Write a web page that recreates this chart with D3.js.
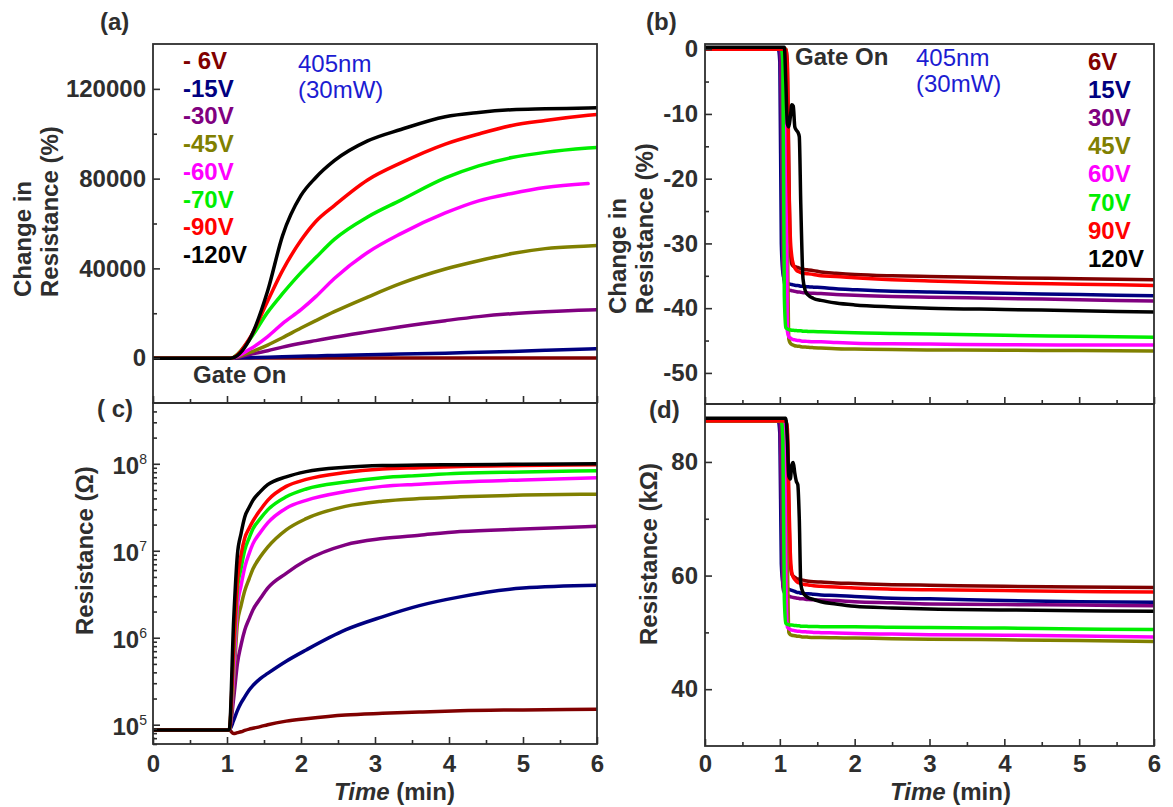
<!DOCTYPE html>
<html>
<head>
<meta charset="utf-8">
<script src="https://cdn.jsdelivr.net/npm/d3@7"></script>
<style>
  body { margin: 0; background: #ffffff; }
  svg { display: block; font-family: Arial, "Liberation Sans", sans-serif; }
</style>
</head>
<body>
<svg id="chart" width="1173" height="807"></svg>
<script>
// ---- series (gate voltages) ----
const legendA = ["- 6V", "-15V", "-30V", "-45V", "-60V", "-70V", "-90V", "-120V"];
const legendB = ["6V", "15V", "30V", "45V", "60V", "70V", "90V", "120V"];
const lineColors = ["#800000", "#000080", "#800080", "#808000", "#ff00ff", "#00ee00", "#ff0000", "#000000"];

// ---- (a) change in resistance (%), negative gate ----
const timeA = [0, 1.05, 1.3, 1.55, 1.75, 2.0, 2.2, 2.45, 2.9, 3.35, 3.95, 4.4, 4.85, 5.3, 5.88, 6.0];
const changeA = [
  [0, 0, 10, 20, 30, 35, 40, 45, 50, 55, 60, 65, 70, 72, 74, 75],
  [0, 0, 200, 400, 600, 800, 1000, 1200, 1500, 1800, 2200, 2600, 3000, 3500, 4100, 4200],
  [0, 0, 1600, 3300, 4900, 6600, 7800, 9300, 11700, 14000, 16700, 18500, 19800, 20700, 21500, 21600],
  [0, 0, 2500, 5800, 9100, 13400, 16700, 20700, 27200, 33300, 39700, 43400, 46600, 48800, 50000, 50200],
  [0, 0, 3800, 9600, 15400, 21600, 27400, 35500, 47100, 55500, 64700, 70100, 73400, 76000, 77800, null],
  [0, 0, 8000, 20500, 28700, 38100, 44800, 52900, 62900, 70400, 80300, 85700, 89400, 91700, 93600, 93900],
  [0, 0, 8500, 25500, 39000, 52500, 60900, 68000, 79400, 87000, 95400, 99900, 103700, 105900, 108200, 108600],
  [0, 0, 8000, 30000, 54500, 72500, 80500, 88000, 96800, 101900, 107600, 109500, 110700, 111100, 111500, 111600]
];

// ---- (c) resistance (ohm), negative gate ----
const timeC = [0, 1.03, 1.09, 1.14, 1.19, 1.24, 1.3, 1.35, 1.45, 1.55, 1.8, 2.07, 2.6, 3.1, 3.6, 4.15, 5.0, 6.0];
const resistC = [
  [8.7e4, 8.7e4, 7.9e4, 8.1e4, 8.3e4, 8.6e4, 8.9e4, 9.1e4, 9.5e4, 1.0e5, 1.1e5, 1.17e5, 1.29e5, 1.35e5, 1.4e5, 1.45e5, 1.48e5, 1.51e5],
  [8.7e4, 8.7e4, 1.12e5, 1.45e5, 1.78e5, 2.09e5, 2.51e5, 2.82e5, 3.39e5, 3.89e5, 5.37e5, 7.24e5, 1.23e6, 1.74e6, 2.34e6, 2.95e6, 3.72e6, 4.0e6],
  [8.7e4, 8.7e4, 2.0e5, 5.0e5, 8.3e5, 1.23e6, 1.66e6, 2.09e6, 2.82e6, 3.72e6, 5.5e6, 7.76e6, 1.17e7, 1.38e7, 1.51e7, 1.66e7, 1.78e7, 1.91e7],
  [8.7e4, 8.7e4, 3.16e5, 1.45e6, 2.34e6, 3.47e6, 4.79e6, 6.17e6, 8.51e6, 1.10e7, 1.74e7, 2.34e7, 3.24e7, 3.72e7, 3.98e7, 4.17e7, 4.37e7, 4.47e7],
  [8.7e4, 8.7e4, 3.98e5, 2.24e6, 3.98e6, 6.46e6, 9.33e6, 1.20e7, 1.62e7, 2.09e7, 3.09e7, 3.80e7, 4.79e7, 5.50e7, 5.82e7, 6.17e7, 6.53e7, 6.92e7],
  [8.7e4, 8.7e4, 6.31e5, 3.55e6, 6.31e6, 1.02e7, 1.41e7, 1.78e7, 2.34e7, 2.95e7, 4.17e7, 5.13e7, 6.17e7, 6.92e7, 7.33e7, 7.76e7, 8.04e7, 8.32e7],
  [8.7e4, 8.7e4, 8.0e5, 4.5e6, 9.0e6, 1.4e7, 1.82e7, 2.19e7, 2.95e7, 3.80e7, 5.50e7, 6.61e7, 7.94e7, 8.71e7, 9.02e7, 9.33e7, 9.55e7, 9.77e7],
  [8.7e4, 8.7e4, 1.58e6, 8.91e6, 1.58e7, 2.45e7, 3.16e7, 3.80e7, 4.79e7, 5.75e7, 7.08e7, 8.13e7, 9.12e7, 9.55e7, 9.66e7, 9.77e7, 9.89e7, 1.0e8]
];

// ---- (b) change in resistance (%) and (d) resistance (kOhm), positive gate ----
const timeBD = [0, 0.98, 1.0, 1.02, 1.04, 1.06, 1.08, 1.1, 1.12, 1.14, 1.16, 1.18, 1.2, 1.22, 1.24, 1.26, 1.28, 1.31, 1.34, 1.38, 1.45, 1.55, 1.75, 2.0, 2.5, 3.0, 4.0, 5.0, 6.0];
const changeB = [
  [0, 0, 0, 0, 0, 0, 0, -2, -18, -31, -33.2, -33.5, -33.6, -33.65, -33.7, -33.8, -33.9, -34.0, -34.05, -34.1, -34.2, -34.4, -34.6, -34.8, -35.0, -35.1, -35.3, -35.45, -35.6],
  [0, 0, -2, -30, -34.5, -35.6, -36.0, -36.15, -36.25, -36.3, -36.35, -36.4, -36.45, -36.5, -36.5, -36.55, -36.6, -36.6, -36.65, -36.7, -36.75, -36.8, -37.0, -37.15, -37.4, -37.5, -37.7, -37.9, -38.1],
  [0, 0, 0, -10, -33, -36, -36.8, -37.1, -37.2, -37.25, -37.3, -37.35, -37.4, -37.45, -37.5, -37.5, -37.55, -37.6, -37.6, -37.65, -37.7, -37.75, -37.9, -38.0, -38.2, -38.3, -38.5, -38.7, -38.9],
  [0, 0, 0, 0, 0, 0, 0, -25, -44.8, -45.4, -45.6, -45.7, -45.8, -45.85, -45.9, -45.9, -45.95, -46.0, -46.0, -46.05, -46.1, -46.15, -46.25, -46.3, -46.4, -46.45, -46.5, -46.55, -46.6],
  [0, 0, 0, 0, 0, 0, -12, -43.5, -44.4, -44.6, -44.75, -44.85, -44.9, -44.95, -45.0, -45.0, -45.05, -45.1, -45.1, -45.15, -45.2, -45.2, -45.3, -45.4, -45.5, -45.55, -45.65, -45.7, -45.7],
  [0, 0, 0, 0, -2, -38, -43.0, -43.2, -43.3, -43.35, -43.4, -43.4, -43.45, -43.45, -43.5, -43.5, -43.5, -43.55, -43.55, -43.6, -43.6, -43.65, -43.7, -43.8, -43.9, -44.0, -44.2, -44.35, -44.5],
  [0, 0, 0, 0, 0, 0, 0, -3, -20, -29, -32, -33.2, -33.8, -34.1, -34.3, -34.4, -34.5, -34.6, -34.65, -34.7, -34.8, -35.0, -35.1, -35.3, -35.6, -35.8, -36.1, -36.3, -36.5],
  [0.3, 0.3, 0.3, 0.3, 0.3, 0.3, -5, -11.5, -12, -10.5, -8.6, -8.8, -12, -12.5, -12.8, -13.5, -24, -35.5, -37.3, -38.0, -38.5, -38.8, -39.2, -39.5, -39.8, -40.0, -40.2, -40.4, -40.6]
];
const resistD = [
  [87.2, 87.2, 87.2, 87.2, 87.2, 87.2, 87.2, 85, 72, 62, 60.3, 59.9, 59.7, 59.5, 59.4, 59.3, 59.25, 59.2, 59.1, 59.0, 58.9, 58.85, 58.7, 58.6, 58.4, 58.3, 58.1, 58.0, 57.9],
  [87.2, 87.2, 85, 62, 58.8, 58.2, 57.9, 57.7, 57.6, 57.5, 57.4, 57.3, 57.2, 57.1, 57.0, 57.0, 56.9, 56.9, 56.8, 56.8, 56.7, 56.6, 56.5, 56.3, 56.0, 55.9, 55.6, 55.4, 55.3],
  [87.2, 87.2, 87.2, 75, 58, 57.0, 56.7, 56.5, 56.4, 56.3, 56.2, 56.15, 56.1, 56.05, 56.0, 55.95, 55.9, 55.9, 55.85, 55.8, 55.75, 55.7, 55.6, 55.4, 55.2, 55.0, 54.9, 54.8, 54.7],
  [87.2, 87.2, 87.2, 87.2, 87.2, 87.2, 87.2, 65, 50.0, 49.6, 49.5, 49.45, 49.4, 49.35, 49.3, 49.3, 49.25, 49.2, 49.2, 49.15, 49.1, 49.1, 49.05, 49.0, 48.9, 48.8, 48.7, 48.55, 48.4],
  [87.2, 87.2, 87.2, 87.2, 87.2, 87.2, 60, 51.0, 50.7, 50.5, 50.4, 50.35, 50.3, 50.25, 50.2, 50.2, 50.15, 50.1, 50.1, 50.05, 50.0, 49.95, 49.9, 49.8, 49.7, 49.6, 49.5, 49.35, 49.2],
  [87.2, 87.2, 87.2, 87.2, 84, 56, 51.6, 51.4, 51.35, 51.3, 51.3, 51.25, 51.2, 51.2, 51.15, 51.15, 51.1, 51.1, 51.1, 51.05, 51.05, 51.0, 51.0, 51.0, 50.9, 50.85, 50.75, 50.6, 50.5],
  [87.2, 87.2, 87.2, 87.2, 87.2, 87.2, 87.2, 86, 74, 64, 60.5, 59.7, 59.3, 59.0, 58.8, 58.7, 58.6, 58.5, 58.4, 58.35, 58.2, 58.1, 58.0, 57.8, 57.6, 57.5, 57.35, 57.2, 57.1],
  [87.7, 87.7, 87.7, 87.7, 87.7, 87.7, 87.7, 84, 77.5, 77, 79.5, 79.9, 78, 76.6, 76.0, 70, 58.5, 57.0, 56.5, 56.1, 55.8, 55.4, 55.0, 54.6, 54.3, 54.1, 53.95, 53.8, 53.7]
];

// ---- tick values ----
const timeTicks = [0, 1, 2, 3, 4, 5, 6];
const timeMinor = [0.5, 1.5, 2.5, 3.5, 4.5, 5.5];
const ticksA = [0, 40000, 80000, 120000];
const minorA = [20000, 60000, 100000];
const ticksB = [0, -10, -20, -30, -40, -50];
const minorB = [-5, -15, -25, -35, -45];
const ticksC = [1e5, 1e6, 1e7, 1e8];
const minorC = [6e4, 7e4, 8e4, 9e4, 2e5, 3e5, 4e5, 5e5, 6e5, 7e5, 8e5, 9e5, 2e6, 3e6, 4e6, 5e6, 6e6, 7e6, 8e6, 9e6, 2e7, 3e7, 4e7, 5e7, 6e7, 7e7, 8e7, 9e7, 2e8, 3e8, 4e8];
const ticksD = [40, 60, 80];
const minorD = [50, 70];

// ---- drawing ----
const ink = "#2e2e2e";
const svg = d3.select("#chart");

const xLeft = d3.scaleLinear().domain([0, 6]).range([153, 597]);
const xRight = d3.scaleLinear().domain([0, 6]).range([705, 1154]);
const yA = d3.scaleLinear().domain([-20000, 140000]).range([403, 44]);
const yB = d3.scaleLinear().domain([-54.8, 0.8]).range([404, 44]);
const yC = d3.scaleLog().domain([6e4, 5e8]).range([744, 403]);
const yD = d3.scaleLinear().domain([30, 90.2]).range([746, 404]);

function styleAxis(g) {
  g.select(".domain").remove();
  g.selectAll(".tick line").attr("stroke", ink).attr("stroke-width", 1.6);
  g.selectAll(".tick text")
    .attr("fill", ink)
    .attr("font-size", 24)
    .attr("font-weight", "bold")
    .attr("font-family", "Arial, 'Liberation Sans', sans-serif");
}

function drawPanel(id, x, y, times, values, yMajor, yMinor, yFmt, xPad) {
  const [x0, x1] = x.range();
  const [yb, yt] = y.range();
  const g = svg.append("g").attr("class", "panel-" + id);

  g.append("clipPath").attr("id", "clip-" + id)
    .append("rect").attr("x", x0).attr("y", yt).attr("width", x1 - x0).attr("height", yb - yt);

  // series
  const line = d3.line()
    .x(d => x(d.t))
    .y(d => y(d.v))
    .curve(d3.curveMonotoneX);
  const lines = g.append("g").attr("clip-path", `url(#clip-${id})`);
  values.forEach((vals, i) => {
    const pts = times.map((t, k) => ({ t: t, v: vals[k] })).filter(d => d.v != null);
    lines.append("path")
      .datum(pts)
      .attr("fill", "none")
      .attr("stroke", lineColors[i])
      .attr("stroke-width", 3.5)
      .attr("stroke-linejoin", "round")
      .attr("stroke-linecap", "round")
      .attr("d", line);
  });

  // y axis (ticks point inward)
  const ay = g.append("g").attr("transform", `translate(${x0},0)`)
    .call(d3.axisLeft(y).tickValues(yMajor).tickSize(-7).tickPadding(7).tickFormat(yFmt || (() => "")));
  styleAxis(ay);
  const ayMinor = g.append("g").attr("transform", `translate(${x0},0)`)
    .call(d3.axisLeft(y).tickValues(yMinor).tickSize(-4).tickFormat(() => ""));
  styleAxis(ayMinor);

  // x axis along the bottom edge; labels only on the lower panels
  const ax = g.append("g").attr("transform", `translate(0,${yb})`)
    .call(d3.axisBottom(x).tickValues(timeTicks).tickSize(-7).tickPadding(xPad || 0)
      .tickFormat(xPad ? d3.format("d") : () => ""));
  styleAxis(ax);
  const axMinor = g.append("g").attr("transform", `translate(0,${yb})`)
    .call(d3.axisBottom(x).tickValues(timeMinor).tickSize(-4).tickFormat(() => ""));
  styleAxis(axMinor);

  // frame
  g.append("rect")
    .attr("x", x0).attr("y", yt).attr("width", x1 - x0).attr("height", yb - yt)
    .attr("fill", "none").attr("stroke", ink).attr("stroke-width", 1.8);
  return g;
}

const gA = drawPanel("a", xLeft, yA, timeA, changeA, ticksA, minorA, d3.format("d"), 0);
const gB = drawPanel("b", xRight, yB, timeBD, changeB, ticksB, minorB, d => String(d), 0);
const gC = drawPanel("c", xLeft, yC, timeC, resistC, ticksC, minorC, null, 11);
const gD = drawPanel("d", xRight, yD, timeBD, resistD, ticksD, minorD, d3.format("d"), 9);

// power-of-ten labels on the log axis
ticksC.forEach(v => {
  const t = gC.append("text")
    .attr("x", 147).attr("y", yC(v) + 10)
    .attr("text-anchor", "end")
    .attr("fill", ink).attr("font-size", 24).attr("font-weight", "bold");
  t.append("tspan").text("10");
  t.append("tspan").attr("dy", -10).attr("font-size", 14).attr("font-weight", "normal")
    .text(Math.round(Math.log10(v)));
});

// text helper
function label(parent, x, y, txt, opts) {
  const o = Object.assign({ size: 24, weight: "bold", fill: ink, anchor: "start", rotate: 0 }, opts || {});
  return parent.append("text")
    .attr("transform", `translate(${x},${y}) rotate(${o.rotate})`)
    .attr("text-anchor", o.anchor)
    .attr("font-size", o.size)
    .attr("font-weight", o.weight)
    .attr("fill", o.fill)
    .text(txt);
}

// panel letters
label(svg, 100, 30, "(a)");
label(svg, 646, 30, "(b)");
label(svg, 97, 417, "( c)");
label(svg, 649, 418, "(d)");

// y-axis titles
label(svg, 31, 297, "Change in", { rotate: -90 });
label(svg, 58, 297, "Resistance (%)", { rotate: -90 });
label(svg, 626, 314, "Change in", { rotate: -90 });
label(svg, 653, 314, "Resistance (%)", { rotate: -90 });
label(svg, 93, 635, "Resistance (\u03a9)", { rotate: -90 });
label(svg, 657, 645, "Resistance (k\u03a9)", { rotate: -90 });

// x-axis titles
[[334, 800], [890, 800]].forEach(([x, y]) => {
  const t = svg.append("text").attr("x", x).attr("y", y)
    .attr("font-size", 24).attr("font-weight", "bold").attr("fill", ink);
  t.append("tspan").attr("font-style", "italic").text("Time");
  t.append("tspan").text(" (min)");
});

// legends
legendA.forEach((s, i) => label(svg, 183, 69 + 27.7 * i, s, { fill: lineColors[i] }));
legendB.forEach((s, i) => label(svg, 1088, 70 + 28.1 * i, s, { fill: lineColors[i] }));

// annotations
const blue = "#1c1cd2";
label(svg, 298, 72, "405nm", { weight: "normal", fill: blue });
label(svg, 298, 98, "(30mW)", { weight: "normal", fill: blue });
label(svg, 916, 66, "405nm", { weight: "normal", fill: blue });
label(svg, 916, 92, "(30mW)", { weight: "normal", fill: blue });
label(svg, 193, 383, "Gate On");
label(svg, 795, 65, "Gate On");
</script>
</body>
</html>
